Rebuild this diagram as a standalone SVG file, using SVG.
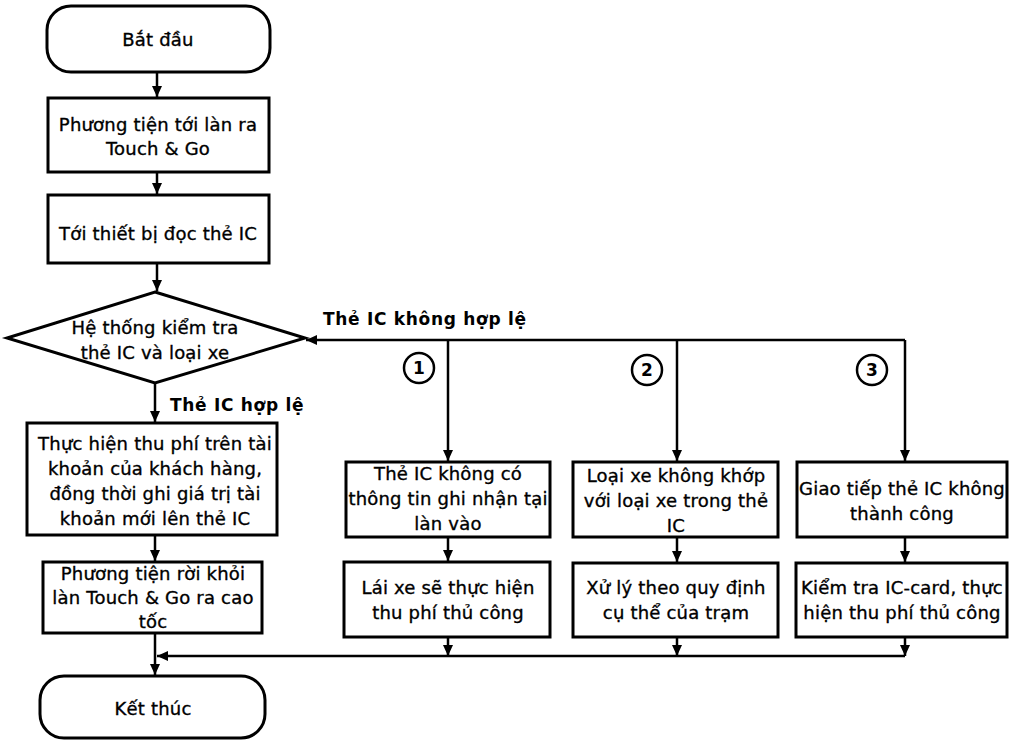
<svg xmlns="http://www.w3.org/2000/svg" width="1009" height="740" viewBox="0 0 1009 740">
<defs>
<marker id="ah" markerWidth="12" markerHeight="12" refX="11" refY="6" orient="auto" markerUnits="userSpaceOnUse">
<path d="M0,1 L11,6 L0,11 Z" fill="#000"/>
</marker>
<style>
.n{fill:#fff;stroke:#000;stroke-width:3}
.t{font-family:"DejaVu Sans",sans-serif;font-size:18px;letter-spacing:0.2px;fill:#000;stroke:#000;stroke-width:0.35;text-anchor:middle}
.b{font-family:"DejaVu Sans",sans-serif;font-size:17px;letter-spacing:0.7px;font-weight:bold;fill:#000}
.c{fill:none;stroke:#000;stroke-width:2.5}
.e{fill:none;stroke:#000;stroke-width:2.5;marker-end:url(#ah)}
.num{font-family:"DejaVu Sans",sans-serif;font-size:17px;font-weight:bold;fill:#000;text-anchor:middle}
</style>
</defs>
<rect width="1009" height="740" fill="#fff"/>
<g id="connectors">
<path class="e" d="M157,72 V97"/>
<path class="e" d="M157,172 V194"/>
<path class="e" d="M157,263 V291"/>
<path class="e" d="M155,383 V422"/>
<path class="e" d="M155,535 V561"/>
<path class="e" d="M155,633 V675"/>
<path class="e" d="M905,340 H306"/>
<path class="e" d="M448,340 V461"/>
<path class="e" d="M677,340 V461"/>
<path class="e" d="M905,340 V461"/>
<path class="e" d="M448,537 V561"/>
<path class="e" d="M677,537 V562"/>
<path class="e" d="M905,537 V562"/>
<path class="e" d="M448,637 V656"/>
<path class="e" d="M677,637 V656"/>
<path class="e" d="M905,637 V656"/>
<path class="e" d="M905,656 H157"/>
<text class="b" x="323" y="325">Thẻ IC không hợp lệ</text>
<text class="b" x="170" y="411">Thẻ IC hợp lệ</text>
<circle cx="419" cy="368" r="15" fill="#fff" stroke="#000" stroke-width="2.5"/>
<text class="num" x="419" y="374">1</text>
<circle cx="647" cy="370" r="15" fill="#fff" stroke="#000" stroke-width="2.5"/>
<text class="num" x="647" y="376">2</text>
<circle cx="872" cy="370" r="15" fill="#fff" stroke="#000" stroke-width="2.5"/>
<text class="num" x="872" y="376">3</text>
</g>
<g id="start">
<rect class="n" x="47" y="6" width="223" height="66" rx="24"/>
<text class="t" x="158" y="46">Bắt đầu</text>
</g>
<g id="arrive">
<rect class="n" x="48" y="98" width="221" height="74"/>
<text class="t" x="158" y="131">Phương tiện tới làn ra</text>
<text class="t" x="158" y="155">Touch &amp; Go</text>
</g>
<g id="reader">
<rect class="n" x="48" y="195" width="221" height="68"/>
<text class="t" x="158" y="240">Tới thiết bị đọc thẻ IC</text>
</g>
<g id="check">
<polygon class="n" points="155,292 305,338 155,383 7,338"/>
<text class="t" x="155" y="334">Hệ thống kiểm tra</text>
<text class="t" x="155" y="359">thẻ IC và loại xe</text>
</g>
<g id="charge">
<rect class="n" x="27" y="423" width="250" height="112"/>
<text class="t" x="155" y="450">Thực hiện thu phí trên tài</text>
<text class="t" x="155" y="475">khoản của khách hàng,</text>
<text class="t" x="155" y="500">đồng thời ghi giá trị tài</text>
<text class="t" x="155" y="525">khoản mới lên thẻ IC</text>
</g>
<g id="leave">
<rect class="n" x="43" y="562" width="219" height="71"/>
<text class="t" x="153" y="580">Phương tiện rời khỏi</text>
<text class="t" x="153" y="604">làn Touch &amp; Go ra cao</text>
<text class="t" x="153" y="628">tốc</text>
</g>
<g id="end">
<rect class="n" x="40" y="676" width="225" height="62" rx="24"/>
<text class="t" x="153" y="715">Kết thúc</text>
</g>
<g id="b1a">
<rect class="n" x="346" y="462" width="204" height="75"/>
<text class="t" x="448" y="480">Thẻ IC không có</text>
<text class="t" x="448" y="505">thông tin ghi nhận tại</text>
<text class="t" x="448" y="530">làn vào</text>
</g>
<g id="b1b">
<rect class="n" x="344" y="562" width="206" height="75"/>
<text class="t" x="448" y="594">Lái xe sẽ thực hiện</text>
<text class="t" x="448" y="619">thu phí thủ công</text>
</g>
<g id="b2a">
<rect class="n" x="573" y="462" width="205" height="75"/>
<text class="t" x="676" y="482">Loại xe không khớp</text>
<text class="t" x="676" y="507">với loại xe trong thẻ</text>
<text class="t" x="676" y="532">IC</text>
</g>
<g id="b2b">
<rect class="n" x="573" y="563" width="205" height="74"/>
<text class="t" x="676" y="594">Xử lý theo quy định</text>
<text class="t" x="676" y="619">cụ thể của trạm</text>
</g>
<g id="b3a">
<rect class="n" x="797" y="462" width="210" height="75"/>
<text class="t" x="902" y="495">Giao tiếp thẻ IC không</text>
<text class="t" x="902" y="520">thành công</text>
</g>
<g id="b3b">
<rect class="n" x="796" y="563" width="211" height="74"/>
<text class="t" x="902" y="594">Kiểm tra IC-card, thực</text>
<text class="t" x="902" y="619">hiện thu phí thủ công</text>
</g>
</svg>
